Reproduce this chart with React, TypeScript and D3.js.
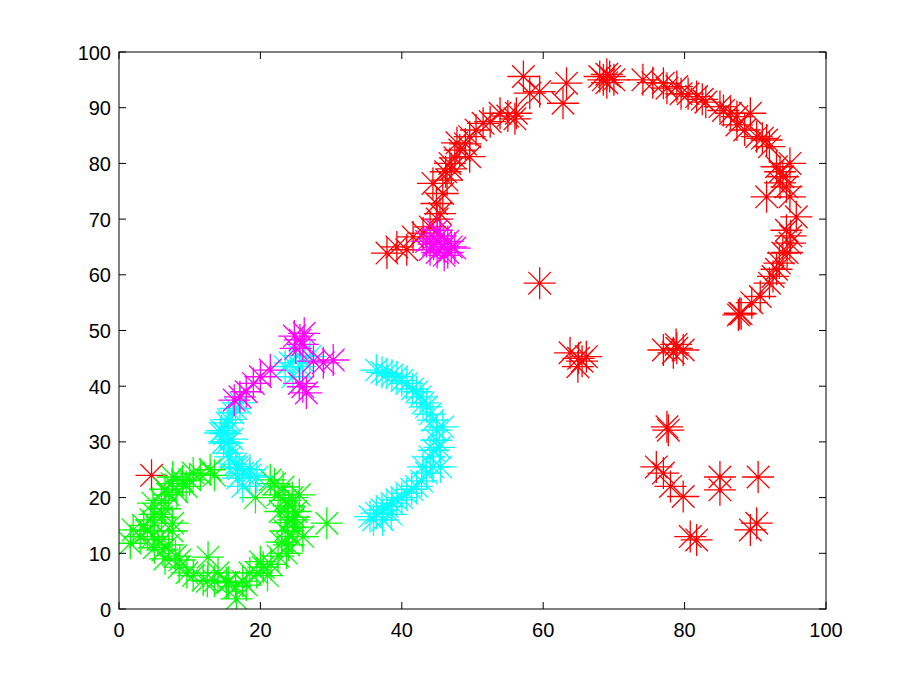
import React from "react";
import * as d3 from "d3";

type P = [number, number];

const xTicks = [0, 20, 40, 60, 80, 100];
const yTicks = [0, 10, 20, 30, 40, 50, 60, 70, 80, 90, 100];

const redPts: P[] = [
  [4.6, 24],
  [37.9, 63.9], [39.3, 65], [40.7, 64.5], [41.6, 66.8], [43, 67.5], [44, 68.6], [45, 70], [45.4, 71],
  [44.9, 72.8], [45.8, 74.6], [44.4, 76.4], [46.4, 77], [46.2, 78.5], [47, 79], [46.8, 80], [47.5, 81],
  [48.2, 82.4], [49.6, 81.2], [47.8, 83.7], [49, 83.5], [49.6, 84.8], [50.5, 86], [51.5, 87.2], [52.5, 87.5],
  [53.9, 89], [55, 88.5], [56.2, 89], [56, 88], [57.2, 95.6], [58.1, 92.6], [59.5, 92.9], [62.8, 90.8], [63.3, 94.4],
  [68, 95.6], [68.5, 95], [69, 96], [69.4, 95.6], [70, 95], [69, 94.5], [74.1, 95], [75.5, 94.5], [77, 94.4],
  [77.5, 93.5], [78.9, 93.8], [79.5, 92.5], [80.5, 92.5], [81.7, 92], [82.5, 91.5], [83, 91], [85, 90.2],
  [85.5, 89.5], [86.5, 89], [87.4, 88.4], [89.3, 89], [87.4, 86.9], [88.5, 86], [90.2, 84.8], [91, 84.5],
  [91.6, 84.2], [92, 83], [93, 79.4], [94.9, 80], [93.5, 78.5], [93.9, 77.6], [94.4, 75.8], [94.9, 74],
  [91.6, 74], [93.5, 76.5], [95.8, 70.4], [94.4, 68], [95, 67], [94.9, 65.7], [93.9, 63.9], [94.5, 64],
  [93.4, 62.1], [93, 61], [92.5, 59.7], [92, 58.5], [90.7, 56.1], [89.5, 55], [87.8, 53.1], [88, 53], [87.6, 52.8],
  [59.5, 58.5], [65, 45], [63.8, 46], [66.1, 45.3], [64.9, 43.5], [65.5, 44.5], [77, 46.5], [78.9, 46.8],
  [79.8, 46.5], [78.4, 46], [78.8, 47.5], [77.5, 32.7], [77.7, 32.1], [76, 25.5], [77, 24.4], [78, 22],
  [79.8, 20.2], [85, 23.7], [85, 21.4], [90.4, 23.7], [80.8, 13], [81.7, 12.4], [89.3, 14.2], [90.2, 15.4],
];

const greenPts: P[] = [
  [6.5, 21.5], [7.5, 22.5], [7.6, 23.7], [9, 23], [10.5, 24.4], [11.5, 24.2], [12.9, 25], [13.5, 24],
  [7, 20.5], [6, 19.5], [4.8, 19], [6.5, 18], [5, 17], [4.5, 16], [3.5, 15], [2, 14.2], [1.6, 11.8],
  [3, 13], [4.8, 13], [5.5, 12.5], [5, 11], [6.2, 10.6], [7.6, 15.4], [7.5, 14], [6.5, 9], [8.6, 8.8],
  [8.5, 7.5], [9.6, 6.5], [10.5, 6], [11.9, 5.2], [12.5, 5], [12.6, 9.3], [13.5, 5], [15.2, 4.7], [15.5, 4.8],
  [16.5, 4], [16.6, 1.8], [17.5, 5], [18.5, 6.5], [19.5, 6.5], [20.4, 7.5], [21, 6], [21.5, 8], [22.5, 9.5],
  [23.7, 10], [24, 11.5], [24.5, 13], [23.5, 14], [24.6, 16], [24.8, 16.5], [25, 17.5], [24, 18.5], [23.5, 19.5],
  [24.5, 20], [23.2, 21.9], [22, 22.5], [21.4, 23.2], [25.5, 20.5], [25.2, 14.7], [19.3, 20], [29.4, 15.4],
  [26, 13], [23, 12], [22.8, 17.5], [8.2, 21], [9.5, 22], [6, 16.5], [4, 14], [7, 11.5], [8, 9.5],
  [14, 6.5], [18, 4.3], [20, 8.5], [22.5, 20.5], [23.8, 15.5], [10, 23.2],
];

const cyanPts: P[] = [
  [17.1, 37], [16.5, 36], [16.1, 35.2], [15.5, 34], [15.3, 33.4], [14.5, 32], [14.3, 31.6], [14.8, 30],
  [15.3, 29.8], [15.5, 28], [15.7, 27.3], [16.5, 26], [16.7, 25.5], [17, 25.2], [17.5, 24.4], [18.5, 24],
  [19.5, 23.7], [18.5, 25], [17.5, 22], [16.8, 23.5], [16, 30.5], [15, 31.5],
  [24.2, 44.2], [25.6, 43.5], [24.6, 41.7], [26, 44.5], [27, 45.3], [25.5, 45.5], [23.5, 43.5],
  [36.4, 42.9], [37.2, 42.5], [37.9, 42.3], [38.6, 42], [39.3, 41.7], [40, 41], [40.7, 40.5], [41.5, 39.5],
  [42.1, 39], [42.6, 38.1], [43, 37], [43.5, 36.3], [44, 35], [44.4, 33.9], [44.9, 32.1], [45.8, 32.7],
  [44.9, 30.3], [45.3, 29], [44.5, 28.5], [44, 27.3], [44.4, 25.5], [45.5, 25.5], [43, 25.5], [43.5, 24.4],
  [42.8, 23], [42.1, 22], [41.4, 21.5], [40.7, 20.8], [40, 20], [39.3, 19.6], [38.6, 19], [37.9, 18.4],
  [37.2, 17.8], [36.4, 17.2], [35.5, 16.6], [37.3, 16], [36, 16], [38.5, 17],
];

const magentaPts: P[] = [
  [25.6, 48.3], [24.8, 49], [26, 47.5], [25, 46.8], [26.2, 49.5], [26, 39.9], [26.5, 38.8], [25.5, 40.5],
  [17.1, 38.1], [16.3, 37.5], [18, 39], [20, 41.7], [21.4, 42.9], [19, 40.5], [30.3, 44.7], [28.9, 44.2],
  [27.5, 44.5],
  [44.5, 66.5], [45.4, 65.7], [46, 65], [44, 64.5], [45, 64], [46.5, 66], [47, 65], [45.5, 67], [44.5, 65.5],
  [46, 63.5], [47.5, 64.8], [43.5, 66], [45, 68], [46.5, 64],
];

const series: { pts: P[]; color: string }[] = [
  { pts: redPts, color: "#ff0000" },
  { pts: greenPts, color: "#00ff00" },
  { pts: cyanPts, color: "#00ffff" },
  { pts: magentaPts, color: "#ff00ff" },
];

const W = 913;
const H = 687;
const L = 119, R = 826, T = 52, B = 609;

export default function App() {
  const x = d3.scaleLinear().domain([0, 100]).range([L, R]);
  const y = d3.scaleLinear().domain([0, 100]).range([B, T]);
  const a = 16;
  const d = 11.3;
  const star = `M${-a},0H${a}M0,${-a}V${a}M${-d},${-d}L${d},${d}M${-d},${d}L${d},${-d}`;
  const font = "'Liberation Sans', Arial, Helvetica, sans-serif";
  return (
    <svg width={W} height={H} style={{ position: "absolute", left: 0, top: 0, background: "#fff" }}>
      <rect x={0} y={0} width={W} height={H} fill="#fff" />
      <defs>
        <clipPath id="plotclip">
          <rect x={L} y={T} width={R - L} height={B - T} />
        </clipPath>
      </defs>
      <g clipPath="url(#plotclip)">
        {series.map((s, si) => (
          <g key={si} stroke={s.color} strokeWidth={1.3} fill="none">
            {s.pts.map((p, i) => (
              <path key={i} d={star} transform={`translate(${x(p[0])},${y(p[1])})`} />
            ))}
          </g>
        ))}
      </g>
      <rect x={L} y={T} width={R - L} height={B - T} fill="none" stroke="#000" strokeWidth={1} />
      {xTicks.map((t) => (
        <g key={"x" + t}>
          <line x1={x(t)} x2={x(t)} y1={B} y2={B - 7} stroke="#000" />
          <line x1={x(t)} x2={x(t)} y1={T} y2={T + 7} stroke="#000" />
          <text x={x(t)} y={637} textAnchor="middle" fontFamily={font} fontSize={20} fill="#000">
            {t}
          </text>
        </g>
      ))}
      {yTicks.map((t) => (
        <g key={"y" + t}>
          <line x1={L} x2={L + 7} y1={y(t)} y2={y(t)} stroke="#000" />
          <line x1={R} x2={R - 7} y1={y(t)} y2={y(t)} stroke="#000" />
          <text x={111} y={y(t) + 7.5} textAnchor="end" fontFamily={font} fontSize={20} fill="#000">
            {t}
          </text>
        </g>
      ))}
    </svg>
  );
}
